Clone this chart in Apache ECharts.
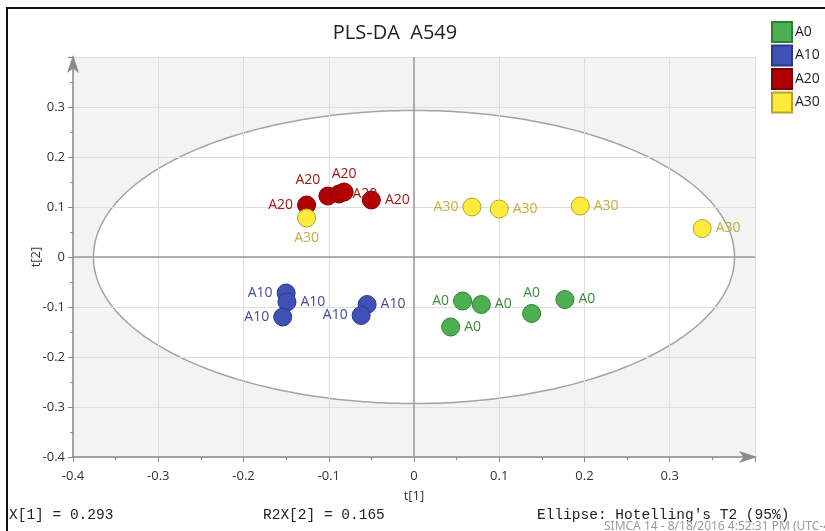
<!DOCTYPE html>
<html>
<head>
<meta charset="utf-8">
<script src="https://cdn.jsdelivr.net/npm/echarts@6/dist/echarts.min.js"></script>
<style>
html,body{margin:0;padding:0;background:#fff;}
#c{width:825px;height:531px;}
</style>
</head>
<body>
<div id="c"></div>
<script>
// ---- data ----
const groupNames = ['A0', 'A10', 'A20', 'A30'];
const a0Points  = [[0.057, -0.088], [0.079, -0.095], [0.043, -0.140], [0.138, -0.113], [0.177, -0.085]];
const a10Points = [[-0.150, -0.072], [-0.149, -0.090], [-0.154, -0.120], [-0.055, -0.095], [-0.062, -0.117]];
const a20Points = [[-0.126, 0.104], [-0.101, 0.122], [-0.088, 0.126], [-0.082, 0.130], [-0.050, 0.114]];
const a30Points = [[-0.126, 0.078], [0.068, 0.100], [0.100, 0.096], [0.195, 0.102], [0.338, 0.057]];
const xTicks = { min: -0.4, max: 0.4, step: 0.1 };
const yTicks = { min: -0.4, max: 0.4, step: 0.1 };
const ellipseSemiAxes = [0.376, 0.293];   // Hotelling's T2 (95%) ellipse
const titleText = 'PLS-DA  A549';
const xName = 't[1]';
const yName = 't[2]';
const footLeft = 'X[1] = 0.293';
const footMid = 'R2X[2] = 0.165';
const footRight = "Ellipse: Hotelling's T2 (95%)";
const footStamp = 'SIMCA 14 - 8/18/2016 4:52:31 PM (UTC-4)';

// ---- styling ----
const styles = {
  A0:  { fill: '#4caf50', border: '#2f7f33', label: '#3b8c3e' },
  A10: { fill: '#3f51b5', border: '#2a378a', label: '#3e4c9c' },
  A20: { fill: '#b20000', border: '#7e0000', label: '#a51616' },
  A30: { fill: '#ffeb3b', border: '#b8a22a', label: '#c4ae38' }
};
const labelPlacement = {
  A0:  [['left'], ['right'], ['right'], ['top'], ['right']],
  A10: [['left'], ['right'], ['left'], ['right'], ['left']],
  A20: [['left'], ['top', [-20, 5]], ['right'], ['top', [0, 3]], ['right']],
  A30: [['bottom'], ['left'], ['right'], ['right'], ['right']]
};
const pointSets = { A0: a0Points, A10: a10Points, A20: a20Points, A30: a30Points };
const FONT = '"Open Sans", "Noto Sans", sans-serif';

const chart = echarts.init(document.getElementById('c'), null, { renderer: 'canvas' });

function scatterSeries(name) {
  const st = styles[name];
  return {
    name: name,
    type: 'scatter',
    z: 3,
    symbol: 'circle',
    symbolSize: 18,
    itemStyle: { color: st.fill, borderColor: st.border, borderWidth: 1, opacity: 1 },
    label: { show: true, formatter: name, color: st.label, fontSize: 14, fontFamily: FONT, distance: 4 },
    emphasis: { disabled: true },
    data: pointSets[name].map((p, i) => {
      const lp = labelPlacement[name][i];
      const lab = { position: lp[0] };
      if (lp[1]) lab.offset = lp[1];
      return { value: p, label: lab };
    })
  };
}

const fmt = v => String(+(+v).toFixed(1));

const option = {
  animation: false,
  backgroundColor: '#ffffff',
  grid: { left: 73, right: 70, top: 57, bottom: 74, containLabel: false },
  legend: {
    data: groupNames,
    orient: 'vertical',
    left: 771,
    top: 21,
    padding: 0,
    itemWidth: 20,
    itemHeight: 20,
    itemGap: 1.5,
    icon: 'rect',
    selectedMode: false,
    textStyle: { fontSize: 14, color: '#222', fontFamily: FONT, padding: [0, 0, 0, -2] }
  },
  xAxis: {
    type: 'value',
    min: xTicks.min, max: xTicks.max, interval: xTicks.step,
    name: xName, nameLocation: 'middle', nameGap: 33, nameMoveOverlap: false,
    nameTextStyle: { fontSize: 13, color: '#333', fontFamily: FONT },
    axisLine: { show: true, onZero: false, lineStyle: { color: '#8a8a8a', width: 1.5 }, symbol: ['none', 'arrow'], symbolSize: [9, 18], symbolOffset: [0, 2] },
    axisTick: { show: true, length: 5, lineStyle: { color: '#8a8a8a' } },
    minorTick: { show: true, splitNumber: 2, length: 3, lineStyle: { color: '#8a8a8a' } },
    axisLabel: { formatter: fmt, showMaxLabel: false, fontSize: 13, color: '#333', margin: 13, fontFamily: FONT },
    splitLine: { show: true, lineStyle: { color: '#dedede', width: 1 } }
  },
  yAxis: {
    type: 'value',
    min: yTicks.min, max: yTicks.max, interval: yTicks.step,
    name: yName, nameLocation: 'middle', nameGap: 30, nameRotate: 90, nameMoveOverlap: false,
    nameTextStyle: { fontSize: 13, color: '#333', fontFamily: FONT },
    axisLine: { show: true, onZero: false, lineStyle: { color: '#8a8a8a', width: 1.5 }, symbol: ['none', 'arrow'], symbolSize: [9, 18], symbolOffset: [0, 2] },
    axisTick: { show: true, length: 5, lineStyle: { color: '#8a8a8a' } },
    minorTick: { show: true, splitNumber: 2, length: 3, lineStyle: { color: '#8a8a8a' } },
    axisLabel: { formatter: fmt, showMaxLabel: false, fontSize: 13, color: '#333', margin: 8, fontFamily: FONT },
    splitLine: { show: true, lineStyle: { color: '#dedede', width: 1 } }
  },
  series: [
    {
      type: 'custom',
      name: 'ellipse',
      z: -1,
      silent: true,
      data: [[0, 0]],
      renderItem: function (params, api) {
        const cs = params.coordSys;
        const c = api.coord([0, 0]);
        const r = api.size([ellipseSemiAxes[0], ellipseSemiAxes[1]]);
        const pts = [];
        for (let k = 0; k < 360; k++) {
          const t = k / 360 * Math.PI * 2;
          pts.push([c[0] + r[0] * Math.cos(t), c[1] + r[1] * Math.sin(t)]);
        }
        return {
          type: 'group',
          children: [
            { type: 'rect', shape: { x: cs.x, y: cs.y, width: cs.width, height: cs.height }, style: { fill: '#f3f3f3' } },
            { type: 'polygon', shape: { points: pts }, style: { fill: '#ffffff', stroke: '#a3a3a3', lineWidth: 1.5 } }
          ]
        };
      }
    },
    {
      type: 'line', name: 'zeroV', z: 1, silent: true, symbol: 'none',
      lineStyle: { color: '#9a9a9a', width: 1.5 },
      data: [[0, yTicks.min], [0, yTicks.max]]
    },
    {
      type: 'line', name: 'zeroH', z: 1, silent: true, symbol: 'none',
      lineStyle: { color: '#9a9a9a', width: 1.5 },
      data: [[xTicks.min, 0], [xTicks.max, 0]]
    },
    scatterSeries('A0'),
    scatterSeries('A10'),
    scatterSeries('A20'),
    scatterSeries('A30')
  ],
  graphic: [
    { type: 'rect', shape: { x: 7, y: 8, width: 840, height: 560 }, style: { fill: 'none', stroke: '#111', lineWidth: 2 }, silent: true, z: 100 },
    { type: 'text', x: 395, y: 33, style: { text: titleText, textAlign: 'center', textVerticalAlign: 'middle', fontSize: 20, fill: '#222', fontFamily: FONT } },
    { type: 'text', x: 9, y: 515, style: { text: footLeft, textVerticalAlign: 'middle', fontSize: 14.5, fill: '#222', fontFamily: '"Liberation Mono", "DejaVu Sans Mono", monospace' } },
    { type: 'text', x: 263, y: 515, style: { text: footMid, textVerticalAlign: 'middle', fontSize: 14.5, fill: '#222', fontFamily: '"Liberation Mono", "DejaVu Sans Mono", monospace' } },
    { type: 'text', x: 537, y: 515, style: { text: footRight, textVerticalAlign: 'middle', fontSize: 14.5, fill: '#222', fontFamily: '"Liberation Mono", "DejaVu Sans Mono", monospace' } },
    { type: 'text', x: 604, y: 527, style: { text: footStamp, textVerticalAlign: 'middle', fontSize: 12, fill: '#9a9a9a', fontFamily: '"Noto Sans", sans-serif' } }
  ]
};

chart.setOption(option);
</script>
</body>
</html>
